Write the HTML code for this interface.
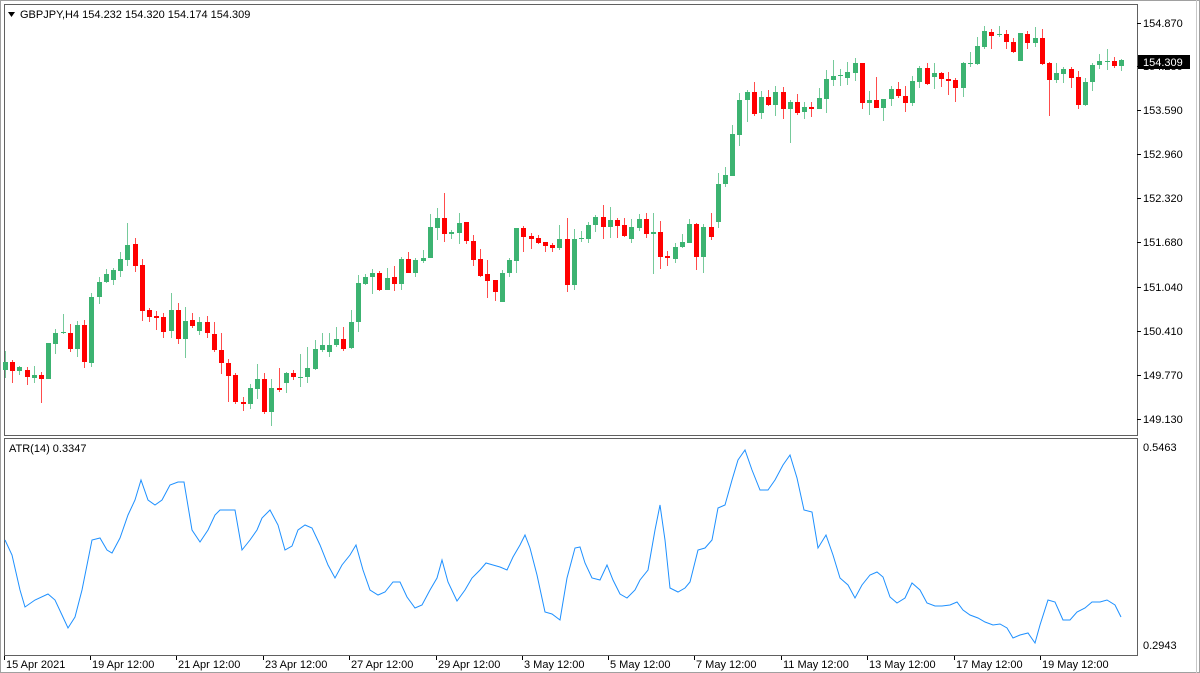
<!DOCTYPE html>
<html><head><meta charset="utf-8"><style>
html,body{margin:0;padding:0;background:#fff;}
svg{display:block;font-family:"Liberation Sans",sans-serif;}
</style></head><body>
<svg id="s" width="1200" height="673" xmlns="http://www.w3.org/2000/svg">
<rect x="0" y="0" width="1200" height="673" fill="#fff"/>
<rect x="0.5" y="0.5" width="1199" height="672" fill="none" stroke="#a0a0a0"/>
<line x1="1196.5" y1="0" x2="1196.5" y2="673" stroke="#c8c8c8"/>
<rect x="4.5" y="4.5" width="1133" height="431" fill="none" stroke="#606060"/>
<rect x="4.5" y="438.5" width="1133" height="217" fill="none" stroke="#606060"/>
<g id="c"></g>
<polyline id="atr" fill="none" stroke="#1e90ff" stroke-width="1"/>
<g font-size="11" fill="#000">
<text x="20" y="18">GBPJPY,H4  154.232 154.320 154.174 154.309</text>
<path d="M8 12 L15 12 L11.5 17 Z" fill="#000"/>
<text x="9" y="452">ATR(14) 0.3347</text>
</g>
<g id="ax" font-size="11" fill="#000"></g>
<rect x="1138" y="55" width="52" height="14" fill="#000"/>
<text x="1143" y="66" font-size="11" fill="#fff">154.309</text>
</svg>
<script>
var C=[[362,370,351,378,1],[362,371,360,383,0],[367,371,366,375,1],[370,377,367,385,0],[375,378,366,383,1],[375,379,372,403,0],[343,379,343,379,1],[333,344,329,354,1],[332,333,314,334,1],[333,349,324,352,0],[325,349,321,357,1],[325,362,320,368,0],[297,363,293,367,1],[282,297,277,304,1],[274,282,269,283,1],[270,280,268,285,1],[259,271,252,277,1],[245,260,223,266,1],[244,266,238,272,0],[265,311,259,321,0],[310,317,308,322,0],[316,318,311,330,0],[317,332,313,338,0],[310,331,293,338,1],[310,339,303,344,0],[321,339,307,358,1],[320,326,313,328,0],[322,331,317,335,1],[322,333,316,338,0],[334,350,322,352,0],[350,363,333,374,0],[363,376,359,402,0],[375,402,373,404,0],[402,404,397,411,0],[388,404,384,409,1],[379,389,364,399,1],[379,412,373,414,0],[388,412,379,426,1],[388,390,368,392,0],[373,383,372,393,1],
[373,377,370,380,0],[377,378,354,387,1],[368,377,347,383,1],[349,369,340,370,1],[345,350,333,352,1],[345,352,333,357,1],[339,345,327,347,1],[339,349,327,351,0],[322,348,310,349,1],[283,322,275,332,1],
[277,284,274,285,1],[273,277,269,294,1],[273,290,271,291,0],[278,290,268,290,1],[277,284,266,291,0],[259,284,257,290,1],[259,273,252,273,0],[260,273,258,277,1],[258,261,250,263,1],[227,258,214,258,1],[218,228,208,240,1],[218,234,193,242,0],[232,234,230,239,1],[223,233,213,244,1],[222,241,222,244,0],[241,260,235,266,0],[259,276,249,277,0],[274,281,260,298,0],[280,292,280,301,0],[273,302,270,302,1],[260,273,258,277,1],[228,261,228,273,1],[228,237,226,252,0],[236,239,233,249,0],[238,243,235,244,0],[242,246,242,252,0],[245,248,243,252,0],[239,248,225,250,1],[239,285,218,292,0],[239,285,229,290,1],
[238,239,231,242,1],[225,239,222,243,1],[217,225,215,232,1],[217,227,205,239,0],[220,227,207,238,1],[220,226,218,238,0],[225,236,218,237,0],[227,239,219,243,1],[219,228,214,231,1],[219,234,213,238,0],[232,234,213,274,1],[232,257,221,269,0],[256,258,251,266,0],[247,259,243,263,1],[242,247,234,248,1],[224,243,219,243,1],[224,257,223,270,0],[227,257,224,273,1],[227,237,213,240,0],[184,222,173,228,1],[175,184,167,187,1],[134,176,125,176,1],[100,135,93,146,1],[92,100,90,122,1],[92,114,82,116,0],[97,113,91,119,1],[97,105,90,106,0],[92,105,86,116,1],[92,109,87,119,0],[102,109,100,143,1],[102,113,94,115,0],[107,112,102,119,1],[107,109,102,117,0],[98,109,88,109,1],[79,99,70,113,1],[76,80,60,86,1],[75,76,69,86,1],[72,78,62,85,1],[63,73,58,81,1],
[63,103,63,109,0],[100,103,91,115,1],[100,108,77,108,0],[99,108,99,121,1],[89,99,86,106,1],[89,96,82,98,0],[96,103,86,112,0],[81,103,76,106,1],[68,82,66,88,1],[68,84,63,85,0],[73,77,63,89,1],[73,79,72,87,0],[79,81,72,95,0],[80,88,78,102,0],[63,88,62,97,1],[63,64,52,67,1],[46,64,37,65,1],[31,47,26,49,1],[32,36,29,49,0],[34,35,26,37,1],[34,42,30,49,0],[42,52,38,53,0],[33,61,33,61,1],[34,43,31,49,0],[38,43,27,47,1],[38,64,29,65,0],[63,80,62,116,0],[73,80,63,83,1],[69,74,67,83,1],[69,78,67,88,0],[77,105,71,109,0],[82,105,78,106,1],[65,82,63,91,1],[61,65,54,69,1],[61,62,49,70,1],[61,66,57,68,0],[60,66,59,71,1]];
var ns="http://www.w3.org/2000/svg",g=document.getElementById('c'),h='';
C.forEach(function(d,i){var x=Math.round(5+7.2*i)+0.5,col=d[4]?'#3cb371':'#ff0000';
h+='<line x1="'+x+'" y1="'+d[2]+'" x2="'+x+'" y2="'+d[3]+'" stroke="'+col+'" stroke-opacity="0.7"/>';
var bh=Math.max(1,d[1]-d[0]);h+='<rect x="'+(x-2.5)+'" y="'+d[0]+'" width="5" height="'+bh+'" fill="'+col+'"/>';});
g.innerHTML=h;
var P="5,540 12,555 20,590 25,607 35,600 48,594 55,600 62,615 68,628 75,617 82,590 92,540 100,538 107,550 112,553 120,538 128,515 135,500 141,480 148,500 155,505 162,500 170,485 178,482 184,482 192,530 200,542 208,530 215,515 220,510 227,510 235,510 242,550 250,540 257,530 262,518 270,510 278,525 285,550 292,546 298,530 305,525 312,528 320,545 328,565 335,578 342,565 350,555 356,545 363,570 370,590 378,595 385,592 393,582 400,582 407,597 415,608 422,605 430,590 437,578 442,560 448,582 457,601 465,590 472,578 480,570 486,563 493,565 500,567 507,570 513,557 520,545 525,535 530,548 537,575 545,612 552,614 560,620 567,578 575,548 580,547 585,563 592,578 600,580 607,565 613,580 620,594 627,598 635,590 640,580 648,570 655,530 660,505 665,540 670,588 678,592 685,588 690,582 698,550 705,548 712,540 718,508 725,505 732,480 738,460 745,450 752,470 760,490 768,490 775,480 783,465 790,455 797,478 804,510 812,512 818,548 826,535 833,555 840,578 848,585 855,598 862,585 870,575 877,572 883,577 890,597 897,603 905,598 912,583 920,590 927,603 935,606 942,606 950,605 957,602 963,610 970,615 978,618 985,622 993,625 1000,624 1007,628 1013,638 1020,635 1028,633 1035,643 1040,625 1048,600 1055,602 1063,620 1070,620 1077,612 1085,608 1092,602 1100,602 1107,600 1115,605 1121,617";
document.getElementById('atr').setAttribute('points',P);
var a='',pr=[["154.870",23],["154.230",66],["153.590",110],["152.960",154],["152.320",198],["151.680",242],["151.040",287],["150.410",331],["149.770",375],["149.130",419]];
pr.forEach(function(p){a+='<line x1="1137" y1="'+(p[1]+.5)+'" x2="1141" y2="'+(p[1]+.5)+'" stroke="#000"/><text x="1143" y="'+(p[1]+4)+'">'+p[0]+'</text>';});
a+='<text x="1143" y="451">0.5463</text><text x="1143" y="649">0.2943</text>';
var t=["15 Apr 2021","19 Apr 12:00","21 Apr 12:00","23 Apr 12:00","27 Apr 12:00","29 Apr 12:00","3 May 12:00","5 May 12:00","7 May 12:00","11 May 12:00","13 May 12:00","17 May 12:00","19 May 12:00"];
var tx=[4,90,176,263,349,436,522,608,694,781,867,954,1040];
t.forEach(function(s,i){a+='<line x1="'+(tx[i]+.5)+'" y1="656" x2="'+(tx[i]+.5)+'" y2="660" stroke="#000"/><text x="'+(tx[i]+2)+'" y="668">'+s+'</text>';});
document.getElementById('ax').innerHTML=a;
</script>
</body></html>
